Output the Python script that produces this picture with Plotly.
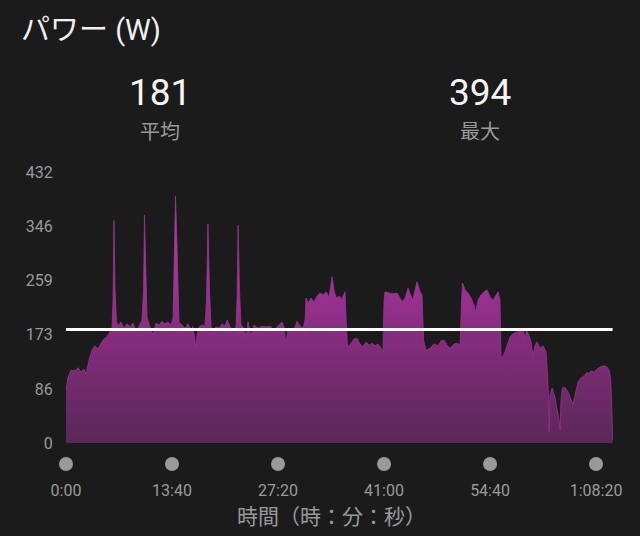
import plotly.graph_objects as go

# ---- data ----
time_s = [0, 15, 39, 70, 93, 116, 139, 155, 178, 201, 224, 248, 271, 294, 317, 340, 356, 364, 371, 379,
          391, 402, 425, 449, 472, 495, 518, 541, 565, 588, 600, 607, 619, 627, 650, 673, 696, 719, 743, 766,
          789, 812, 828, 839, 847, 855, 866, 874, 897, 921, 944, 967, 982, 998, 1006, 1013, 1029, 1052, 1075, 1087,
          1098, 1110, 1122, 1137, 1160, 1184, 1207, 1230, 1246, 1269, 1292, 1315, 1323, 1331, 1342, 1354, 1377, 1393, 1408, 1431,
          1454, 1485, 1516, 1547, 1578, 1609, 1640, 1671, 1686, 1702, 1717, 1748, 1772, 1787, 1810, 1833, 1849, 1857, 1872, 1895,
          1919, 1942, 1965, 1988, 2011, 2035, 2058, 2073, 2089, 2112, 2135, 2158, 2170, 2178, 2205, 2228, 2251, 2274, 2297, 2321,
          2344, 2367, 2390, 2414, 2437, 2452, 2460, 2468, 2499, 2530, 2561, 2584, 2600, 2623, 2646, 2669, 2684, 2700, 2715, 2739,
          2754, 2766, 2785, 2816, 2847, 2878, 2901, 2924, 2947, 2971, 3002, 3025, 3048, 3060, 3067, 3087, 3110, 3133, 3156, 3168,
          3187, 3210, 3234, 3257, 3280, 3303, 3326, 3342, 3357, 3365, 3381, 3396, 3412, 3435, 3458, 3489, 3512, 3528, 3543, 3551,
          3563, 3582, 3597, 3613, 3628, 3644, 3667, 3690, 3713, 3725, 3733, 3737, 3744, 3760, 3783, 3798, 3814, 3822, 3829, 3841,
          3860, 3884, 3907, 3922, 3938, 3961, 3984, 4007, 4030, 4046, 4061, 4085, 4108, 4131, 4162, 4185, 4201, 4212, 4220, 4228]

power_w = [84, 104, 116, 115, 120, 113, 118, 110, 132, 148, 155, 150, 159, 166, 169, 177, 183, 228, 355, 244,
           193, 186, 193, 183, 190, 185, 191, 179, 186, 196, 244, 363, 276, 199, 185, 172, 191, 188, 194, 190,
           193, 188, 199, 340, 394, 344, 228, 193, 188, 183, 190, 180, 186, 167, 151, 172, 185, 188, 186, 228,
           349, 244, 186, 174, 185, 183, 190, 186, 196, 185, 175, 186, 228, 347, 244, 188, 183, 169, 193, 171,
           188, 183, 186, 185, 186, 180, 186, 193, 185, 156, 183, 180, 185, 194, 186, 183, 196, 231, 223, 231,
           225, 234, 239, 236, 241, 233, 265, 244, 231, 234, 230, 241, 180, 153, 159, 166, 167, 158, 153, 161,
           156, 159, 155, 158, 151, 145, 228, 241, 239, 238, 239, 231, 225, 231, 247, 234, 228, 244, 257, 241,
           236, 164, 148, 151, 158, 155, 163, 164, 156, 151, 158, 159, 156, 228, 255, 244, 239, 231, 220, 209,
           228, 236, 241, 244, 233, 228, 236, 241, 228, 136, 139, 145, 156, 169, 174, 177, 179, 183, 175, 164,
           180, 171, 161, 139, 156, 161, 151, 155, 145, 108, 69, 18, 77, 88, 72, 53, 37, 21, 69, 88,
           88, 81, 69, 61, 77, 97, 104, 107, 113, 110, 115, 113, 118, 121, 123, 121, 116, 104, 69, 5]

avg_power = 181
max_power = 394
y_ticks = [0, 86, 173, 259, 346, 432]
x_tick_vals = [0, 820, 1640, 2460, 3280, 4100]
x_tick_text = ["0:00", "13:40", "27:20", "41:00", "54:40", "1:08:20"]

title_text = "パワー (W)"
avg_label = "平均"
max_label = "最大"
x_title = "時間（時：分：秒）"

# ---- style / layout ----
W, H = 640, 536
BG = "#1b1b1b"
GRAY = "#9a9a9a"
FONT = "Roboto, 'Noto Sans CJK JP', sans-serif"
ML, MR, MT, MB = 66, 27, 172, 46
PW, PH = W - ML - MR, H - MT - MB


def px_x(px):
    return (px - ML) / PW


def px_y(py):
    return (H - MB - py) / PH


fig = go.Figure()

fig.add_trace(go.Scatter(
    x=time_s, y=power_w, mode="lines", fill="tozeroy",
    line=dict(width=0.8, color="#9a3194"),
    fillgradient=dict(type="vertical", start=0, stop=max_power,
                      colorscale=[[0, "#5a2858"], [0.45, "#882c80"], [1, "#c43eba"]]),
    hoverinfo="skip", showlegend=False, xaxis="x", yaxis="y"))

fig.add_trace(go.Scatter(
    x=[time_s[0], time_s[-1]], y=[avg_power, avg_power], mode="lines",
    line=dict(color="#ffffff", width=3), hoverinfo="skip", showlegend=False,
    xaxis="x", yaxis="y"))

fig.add_trace(go.Scatter(
    x=x_tick_vals, y=[0] * len(x_tick_vals), mode="markers",
    marker=dict(size=14, color=GRAY), hoverinfo="skip", showlegend=False,
    xaxis="x2", yaxis="y2", cliponaxis=False))

main_bottom = px_y(443)
fig.update_layout(
    width=W, height=H, paper_bgcolor=BG, plot_bgcolor=BG,
    margin=dict(l=ML, r=MR, t=MT, b=MB),
    font=dict(family=FONT, color=GRAY, size=16),
    hovermode=False,
    xaxis=dict(domain=[0, 1], range=[0, 4231], anchor="y", showgrid=False, zeroline=False,
               showticklabels=False, showline=False, ticks=""),
    yaxis=dict(domain=[main_bottom, 1], range=[0, 432], tickvals=y_ticks, showgrid=False,
               zeroline=False, showline=False, ticks="outside", ticklen=9, tickcolor=BG,
               tickfont=dict(size=16, color=GRAY)),
    xaxis2=dict(domain=[0, 1], range=[0, 4231], anchor="y2", matches="x", showgrid=False,
                zeroline=False, showline=False, tickvals=x_tick_vals, ticktext=x_tick_text,
                ticks="outside", ticklen=1, tickcolor=BG, tickfont=dict(size=16, color=GRAY)),
    yaxis2=dict(domain=[px_y(475), px_y(453)], range=[-1, 1], visible=False),
    annotations=[
        dict(text=title_text, xref="paper", yref="paper", x=px_x(19), y=px_y(30),
             xanchor="left", yanchor="middle", showarrow=False,
             font=dict(size=29, color="#f0f0f0", family=FONT)),
        dict(text=str(avg_power), xref="paper", yref="paper", x=px_x(160), y=px_y(92),
             xanchor="center", yanchor="middle", showarrow=False,
             font=dict(size=37, color="#f5f5f5", family=FONT)),
        dict(text=avg_label, xref="paper", yref="paper", x=px_x(160), y=px_y(132),
             xanchor="center", yanchor="middle", showarrow=False,
             font=dict(size=20, color=GRAY, family=FONT)),
        dict(text=str(max_power), xref="paper", yref="paper", x=px_x(480), y=px_y(92),
             xanchor="center", yanchor="middle", showarrow=False,
             font=dict(size=37, color="#f5f5f5", family=FONT)),
        dict(text=max_label, xref="paper", yref="paper", x=px_x(480), y=px_y(132),
             xanchor="center", yanchor="middle", showarrow=False,
             font=dict(size=20, color=GRAY, family=FONT)),
        dict(text=x_title, xref="x2", yref="paper", x=(x_tick_vals[0] + x_tick_vals[-1]) / 2,
             y=px_y(517), xanchor="center", yanchor="middle", showarrow=False,
             font=dict(size=21, color=GRAY, family=FONT)),
    ],
)

fig.write_html("out.html", config={"displayModeBar": False, "staticPlot": True},
               post_script="document.body.style.margin='0px';document.body.style.background='#1b1b1b';")
